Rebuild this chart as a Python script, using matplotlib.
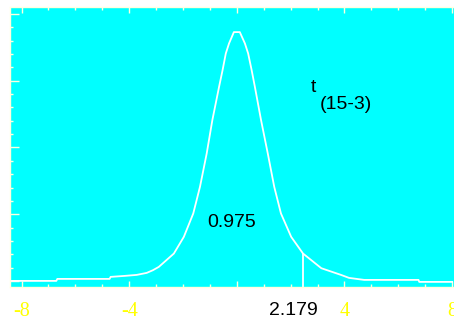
import matplotlib
matplotlib.use('Agg')
import matplotlib.pyplot as plt
import numpy as np

# density curve (t with 12 df)
t_x = [-8.4, -6.71, -6.67, -4.73, -4.69, -4.17, -3.72, -3.35, -3.12, -2.90,
       -2.34, -1.97, -1.62, -1.37, -1.12, -0.91, -0.66, -0.53, -0.41, -0.29,
       -0.11, 0.11, 0.30, 0.42, 0.55, 0.67, 0.90, 1.15, 1.39, 1.64,
       2.02, 2.46, 3.14, 3.87, 4.17, 4.73, 6.75, 6.78, 8.0]
t_y = [0.0, 0.0, 0.003, 0.003, 0.006, 0.0075, 0.009, 0.012, 0.016, 0.021,
       0.041, 0.066, 0.101, 0.141, 0.191, 0.241, 0.291, 0.316, 0.341, 0.356,
       0.373, 0.373, 0.356, 0.341, 0.316, 0.291, 0.241, 0.191, 0.141, 0.101,
       0.066, 0.041, 0.019, 0.009, 0.0045, 0.0015, 0.0015, -0.0015, -0.0015]

crit_x = 2.45          # where the cut line sits in the picture
crit_label = '2.179'
area_label = '0.975'
x_ticks = [-8, -4, 0, 4, 8]
x_ticklabels = ['-8', '-4', '', '4', '8']

fig = plt.figure(figsize=(4.54, 3.22), dpi=100)
ax = fig.add_axes([0.022, 0.109, 0.978, 0.869])
ax.set_facecolor('#00ffff')

ax.plot(t_x, t_y, color='white', lw=1.3)
ylo, yhi = -0.009, 0.4105
ax.vlines(crit_x, ylo, np.interp(crit_x, t_x, t_y), color='white', lw=1.3)

ax.set_xlim(-8.43, 8.07)
ax.set_ylim(ylo, yhi)

ax.set_xticks(x_ticks)
ax.set_xticklabels(x_ticklabels)
ax.set_xticks(np.arange(-8, 9, 1), minor=True)
ax.set_yticks(np.arange(0, 0.41, 0.1))
ax.set_yticklabels([])
ax.set_yticks(np.arange(0, 0.41, 0.02), minor=True)

tick_col = '#ffffe0'
ax.tick_params(axis='x', which='major', direction='in', length=4.3, width=1,
               color=tick_col, top=True, pad=11)
ax.tick_params(axis='x', which='minor', direction='in', length=2.2, width=1,
               color=tick_col, top=True)
ax.tick_params(axis='y', which='major', direction='in', length=6.3, width=1,
               color=tick_col)
ax.tick_params(axis='y', which='minor', direction='in', length=2.4, width=1,
               color=tick_col)
for lab in ax.get_xticklabels():
    lab.set_fontfamily('Liberation Serif')
    lab.set_fontsize(14.5)
    lab.set_color('#ffff00')

for side in ['left', 'top', 'bottom']:
    ax.spines[side].set_color(tick_col)
    ax.spines[side].set_linewidth(1)
ax.spines['right'].set_visible(False)

font = dict(family='Liberation Sans', fontsize=14, color='black')
ax.text(-0.2, 0.088, area_label, ha='center', va='center', **font)
ax.text(2.09, -0.045, crit_label, ha='center', va='center', clip_on=False, **font)
ax.text(2.86, 0.29, 't', ha='center', va='center', **font)
ax.text(4.06, 0.265, '(15-3)', ha='center', va='center', **font)

fig.savefig('out.png', dpi=100, facecolor='white')
